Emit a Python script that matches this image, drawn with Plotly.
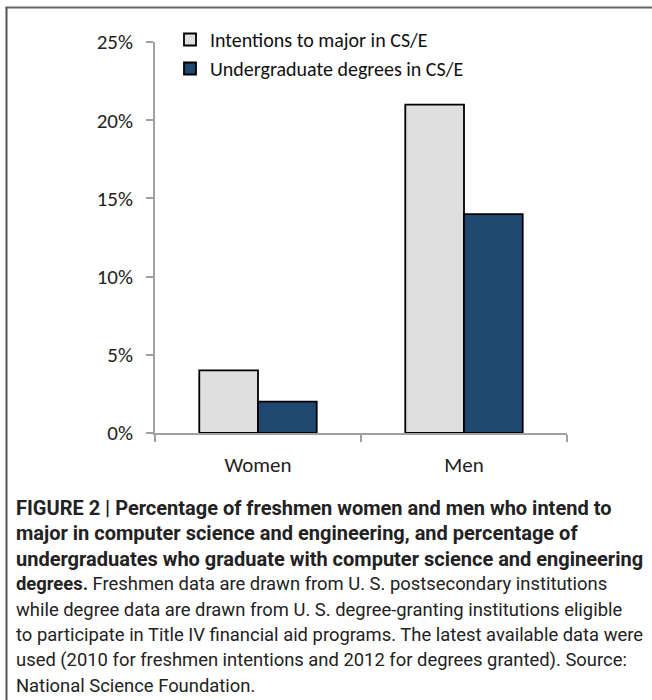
import plotly.graph_objects as go

categories = ["Women", "Men"]
intentions = [4.0, 21.0]
degrees = [2.0, 14.0]
series_names = ["Intentions to major in CS/E", "Undergraduate degrees in CS/E"]
y_ticks = [0, 5, 10, 15, 20, 25]
y_tick_labels = [f"{v}%" for v in y_ticks]

caption_lines = [
    "<b>FIGURE 2 | Percentage of freshmen women and men who intend to</b>",
    "<b>major in computer science and engineering, and percentage of</b>",
    "<b>undergraduates who graduate with computer science and engineering</b>",
    "<b>degrees.</b> Freshmen data are drawn from U. S. postsecondary institutions",
    "while degree data are drawn from U. S. degree-granting institutions eligible",
    "to participate in Title IV financial aid programs. The latest available data were",
    "used (2010 for freshmen intentions and 2012 for degrees granted). Source:",
    "National Science Foundation.",
]
caption_bold = [True, True, True, False, False, False, False, False]

W, H = 652, 700
L, R, T, B = 155, 567, 42, 433

def px(x):
    return (x - L) / (R - L)

def py(y):
    return (B - y) / (B - T)

axis_font = "Carlito, Lato, 'Open Sans', sans-serif"
cap_font = "'Liberation Sans Narrow', 'Roboto', sans-serif"

fig = go.Figure()
fig.add_trace(go.Bar(x=categories, y=intentions, name=series_names[0],
                     marker=dict(color="#DFDFDF", line=dict(color="#000000", width=1.8))))
fig.add_trace(go.Bar(x=categories, y=degrees, name=series_names[1],
                     marker=dict(color="#1F4870", line=dict(color="#000000", width=1.8))))

fig.update_layout(
    width=W, height=H,
    margin=dict(l=L, r=W - R, t=T, b=H - B, pad=0),
    paper_bgcolor="white", plot_bgcolor="white",
    barmode="group", bargap=0.43, bargroupgap=0,
    showlegend=True,
    legend=dict(x=px(170), y=py(20), xanchor="left", yanchor="top",
                font=dict(family=axis_font, size=20, color="#111"),
                bgcolor="rgba(0,0,0,0)", itemwidth=30, tracegroupgap=0),
    font=dict(family=axis_font, size=18, color="#222"),
)
fig.update_yaxes(range=[0, 25], tickvals=y_ticks, ticktext=y_tick_labels,
                 showgrid=False, zeroline=False, showline=True,
                 linecolor="#A0A0A0", linewidth=1.6, ticks="outside",
                 ticklen=7, tickcolor="#A0A0A0", tickwidth=1.6,
                 ticklabelstandoff=9,
                 tickfont=dict(family=axis_font, size=21, color="#222"))
fig.update_xaxes(showgrid=False, showline=True, linecolor="#A0A0A0", linewidth=1.6,
                 ticks="outside", tickson="boundaries", ticklen=7,
                 tickcolor="#A0A0A0", tickwidth=1.6, ticklabelstandoff=12,
                 tickfont=dict(family=axis_font, size=21, color="#222"))

# frame lines (top and left)
fig.add_shape(type="line", xref="paper", yref="paper",
              x0=px(5.5), x1=px(652), y0=py(7.5), y1=py(7.5),
              line=dict(color="#666666", width=2))
fig.add_shape(type="line", xref="paper", yref="paper",
              x0=px(6.5), x1=px(6.5), y0=py(7), y1=py(700),
              line=dict(color="#555555", width=2))

line_y0 = 508
for i, t in enumerate(caption_lines):
    fig.add_annotation(text=t, xref="paper", yref="paper",
                       x=px(14), y=py(line_y0 + i * 25.3),
                       xanchor="left", yanchor="middle", showarrow=False,
                       align="left",
                       font=dict(family=cap_font, size=20 if caption_bold[i] else 18.4,
                                 color="#222"))

fig.write_html("out.html", config={"displayModeBar": False},
               post_script="document.body.style.margin='0px';document.body.style.overflow='hidden';")
